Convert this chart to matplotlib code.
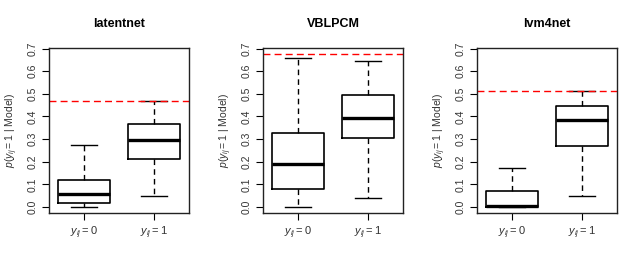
import matplotlib
matplotlib.use('Agg')
import matplotlib.pyplot as plt

plt.rcParams['font.family'] = ['Liberation Sans', 'DejaVu Sans']
plt.rcParams['mathtext.fontset'] = 'custom'
plt.rcParams['mathtext.rm'] = 'Liberation Sans'
plt.rcParams['mathtext.it'] = 'Liberation Sans:italic'
plt.rcParams['mathtext.bf'] = 'Liberation Sans:bold'

# box stats: (whislo, q1, med, q3, whishi)
models = ['latentnet', 'VBLPCM', 'lvm4net']
group_labels = ['$y_{ij} = 0$', '$y_{ij} = 1$']
stats_y0 = [(0.0, 0.018, 0.056, 0.120, 0.276),
            (0.0, 0.080, 0.192, 0.329, 0.657),
            (0.0, 0.000, 0.004, 0.069, 0.174)]
stats_y1 = [(0.049, 0.211, 0.298, 0.365, 0.467),
            (0.040, 0.306, 0.393, 0.495, 0.647),
            (0.050, 0.269, 0.383, 0.448, 0.513)]
thresholds = [0.468, 0.676, 0.513]

fig = plt.figure(figsize=(6.42, 2.74), dpi=100)
lefts = [49/642, 263/642, 477/642]
w = 140/642
b = 1 - 213/274
h = 165/274

for i in range(3):
    ax = fig.add_axes([lefts[i], b, w, h])
    bs = []
    for s, lab in zip([stats_y0[i], stats_y1[i]], group_labels):
        bs.append(dict(whislo=s[0], q1=s[1], med=s[2], q3=s[3], whishi=s[4],
                       label=lab, fliers=[]))
    ax.bxp(bs, positions=[1, 2], widths=0.75, showfliers=False,
           boxprops=dict(color='black', lw=1.2),
           medianprops=dict(color='black', lw=2.4, solid_capstyle='butt'),
           whiskerprops=dict(color='black', lw=1.0, linestyle=(0, (4, 3))),
           capprops=dict(color='black', lw=1.0),
           capwidths=0.37)
    ax.axhline(thresholds[i], color='red', lw=1.0, linestyle=(0, (5, 3)))
    ax.set_xlim(0.5, 2.5)
    ax.set_ylim(-0.027, 0.703)
    ax.set_yticks([0, 0.1, 0.2, 0.3, 0.4, 0.5, 0.6, 0.7])
    ax.set_yticklabels(['0.0', '0.1', '0.2', '0.3', '0.4', '0.5', '0.6', '0.7'],
                       rotation=90, va='center', color='#333333')
    ax.tick_params(axis='y', labelsize=7.5, length=5, width=0.8, pad=3)
    ax.tick_params(axis='x', labelsize=8, length=5, width=0.8, pad=3, colors='black')
    for lbl in ax.get_xticklabels():
        lbl.set_color('#333333')
    for sp in ax.spines.values():
        sp.set_linewidth(1.0)
        sp.set_color('#222222')
    ax.set_title(models[i], fontsize=9, fontweight='bold', pad=15)
    ax.set_ylabel(r'$p(y_{ij} = 1\ |\ \mathrm{Model})$', fontsize=7.5, color='#333333',
                  labelpad=6)

fig.savefig('out.png', dpi=100)
